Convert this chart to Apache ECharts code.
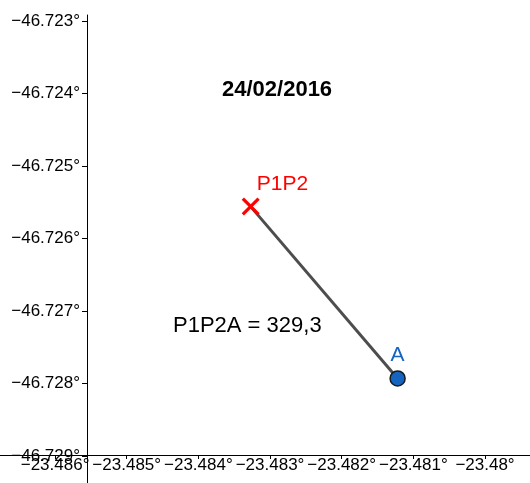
<!DOCTYPE html>
<html>
<head>
<meta charset="utf-8">
<script src="https://cdn.jsdelivr.net/npm/echarts@6/dist/echarts.min.js"></script>
<style>
  html, body { margin: 0; padding: 0; background: #fff; }
  #chart { width: 530px; height: 483px; }
</style>
</head>
<body>
<div id="chart"></div>
<script>
    // data (longitude on x, latitude on y, degrees)
    var pointNames = ['P1P2', 'A'];
    var pointX = [-23.48327, -23.48122];
    var pointY = [-46.72556, -46.72793];
    var xRange = [-23.487, -23.479];
    var yRange = [-46.730, -46.722917];
    var tickStep = 0.001;
    var titleText = '24/02/2016';
    var measureText = 'P1P2A = 329,3';

    var font = 'Liberation Sans, Arial, sans-serif';

    function degLabel(v) {
        var s = String(parseFloat(Math.abs(v).toFixed(3)));
        return (v < 0 ? '\u2212' : '') + s + '\u00b0';
    }

    var chart = echarts.init(document.getElementById('chart'));

    var option = {
        animation: false,
        grid: {
            left: -16.6, right: -26.7, top: 15, bottom: -45.5,
            containLabel: false, outerBoundsMode: 'none'
        },
        xAxis: {
            type: 'value',
            min: xRange[0],
            max: xRange[1],
            interval: tickStep,
            offset: -73.5,
            splitLine: {show: false},
            axisLine: {lineStyle: {color: '#000', width: 1}},
            axisTick: {length: 4, lineStyle: {color: '#000'}},
            axisLabel: {
                color: '#000', fontSize: 17, fontFamily: font, margin: 2,
                showMinLabel: false, showMaxLabel: false, hideOverlap: false,
                formatter: degLabel
            }
        },
        yAxis: {
            type: 'value',
            min: yRange[0],
            max: yRange[1],
            interval: tickStep,
            offset: -103.6,
            splitLine: {show: false},
            axisLine: {lineStyle: {color: '#000', width: 1}},
            axisTick: {length: 5, lineStyle: {color: '#000'}},
            axisLabel: {
                color: '#000', fontSize: 17, fontFamily: font, margin: 7,
                showMinLabel: false, showMaxLabel: false, hideOverlap: false,
                formatter: degLabel
            }
        },
        series: [
            {
                type: 'line',
                data: [[pointX[0], pointY[0]], [pointX[1], pointY[1]]],
                symbol: 'none',
                lineStyle: {color: '#4d4d4d', width: 3},
                z: 2
            },
            {
                type: 'scatter',
                data: [[pointX[0], pointY[0]]],
                symbol: 'path://M2.5,0 L10,7.5 L17.5,0 L20,2.5 L12.5,10 L20,17.5 L17.5,20 L10,12.5 L2.5,20 L0,17.5 L7.5,10 L0,2.5 Z',
                symbolSize: 18,
                itemStyle: {color: '#ff0000', opacity: 1},
                label: {
                    show: true, position: 'top', align: 'left', distance: 3, offset: [6, 0],
                    formatter: pointNames[0], color: '#ff0000', fontSize: 21, fontFamily: font
                },
                z: 3
            },
            {
                type: 'scatter',
                data: [[pointX[1], pointY[1]]],
                symbol: 'circle',
                symbolSize: 15,
                itemStyle: {color: '#1565c0', borderColor: '#1a1a1a', borderWidth: 1.5, opacity: 1},
                label: {
                    show: true, position: 'top', distance: 4,
                    formatter: pointNames[1], color: '#1565c0', fontSize: 21, fontFamily: font
                },
                z: 3
            }
        ],
        graphic: [
            {
                type: 'text', left: 222, top: 79,
                style: {text: titleText, fill: '#000', font: 'bold 22px ' + font}
            },
            {
                type: 'text', left: 173, top: 315,
                style: {text: measureText, fill: '#000', font: '22px ' + font}
            }
        ]
    };

    chart.setOption(option);
</script>
</body>
</html>
